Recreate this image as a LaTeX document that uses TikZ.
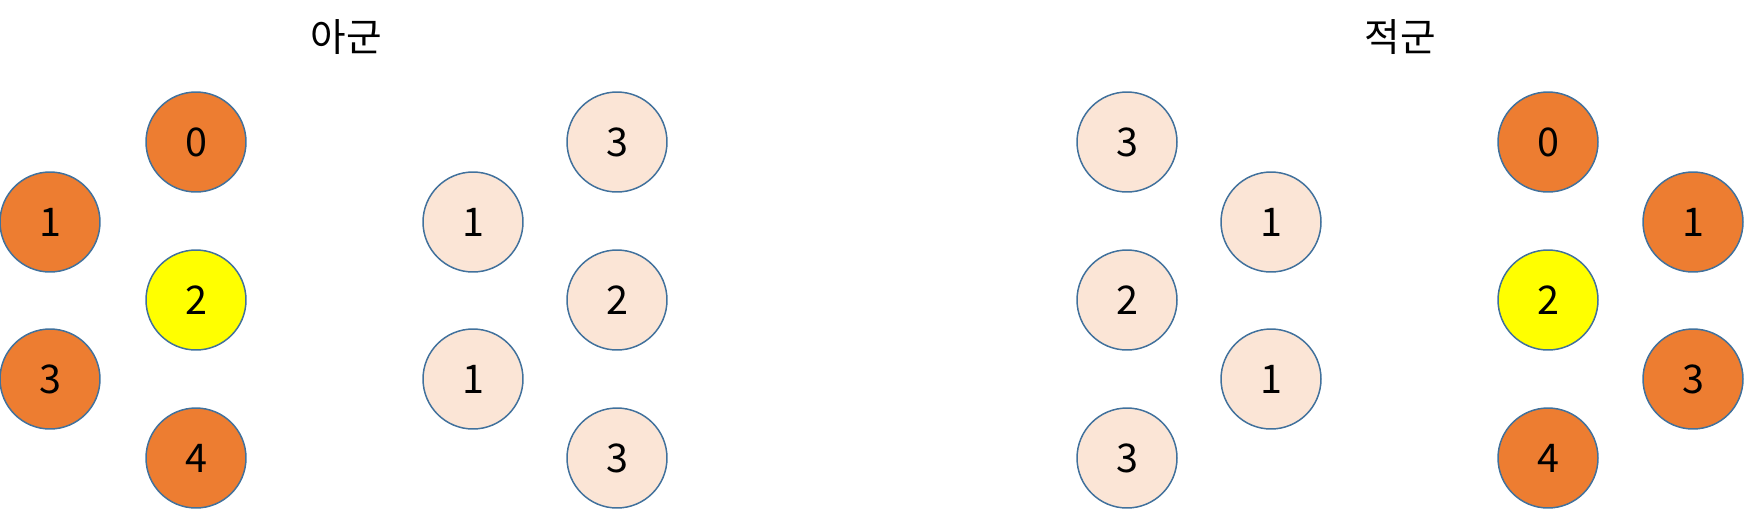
\documentclass[tikz,border=0pt]{standalone}
\usepackage{fontspec}
\usepackage{xcolor}
\usepackage{tikz}
\newfontfamily\kr{Noto Sans CJK KR}
\definecolor{naranja}{HTML}{ED7D31}
\definecolor{claro}{HTML}{FBE5D6}
\definecolor{amarillo}{HTML}{FFFF00}
\definecolor{borde}{HTML}{41719C}

\begin{document}
\begin{tikzpicture}[x=0.02cm, y=-0.02cm,
  every node/.style={circle, draw=borde, line width=0.85pt, minimum size=2cm, inner sep=0pt, font=\kr\fontsize{22.5}{26}\selectfont},
  aliado/.style={fill=naranja}, centro/.style={fill=amarillo}, vacio/.style={fill=claro},
  titulo/.style={draw=none, circle=false, rectangle, minimum size=0pt, font=\kr\fontsize{22}{26}\selectfont}]
  \useasboundingbox (0,0) rectangle (1744,508);

  % Titulos
  \node[titulo] (t1) at (346,37) {아군};
  \node[titulo] (t2) at (1400,37) {적군};

  % Aliados
  \node[aliado] (a0) at (196,142) {0};
  \node[aliado] (a1) at (50,222) {1};
  \node[centro] (a2) at (196,300) {2};
  \node[aliado] (a3) at (50,379) {3};
  \node[aliado] (a4) at (196,458) {4};

  % Distancias izquierda
  \node[vacio] (b1) at (473,222) {1};
  \node[vacio] (b3) at (617,142) {3};
  \node[vacio] (b2) at (617,300) {2};
  \node[vacio] (b4) at (473,379) {1};
  \node[vacio] (b5) at (617,458) {3};

  % Distancias derecha
  \node[vacio] (c3) at (1127,142) {3};
  \node[vacio] (c1) at (1271,222) {1};
  \node[vacio] (c2) at (1127,300) {2};
  \node[vacio] (c4) at (1271,379) {1};
  \node[vacio] (c5) at (1127,458) {3};

  % Enemigos
  \node[aliado] (e0) at (1548,142) {0};
  \node[aliado] (e1) at (1693,222) {1};
  \node[centro] (e2) at (1548,300) {2};
  \node[aliado] (e3) at (1693,379) {3};
  \node[aliado] (e4) at (1548,458) {4};
\end{tikzpicture}
\end{document}
